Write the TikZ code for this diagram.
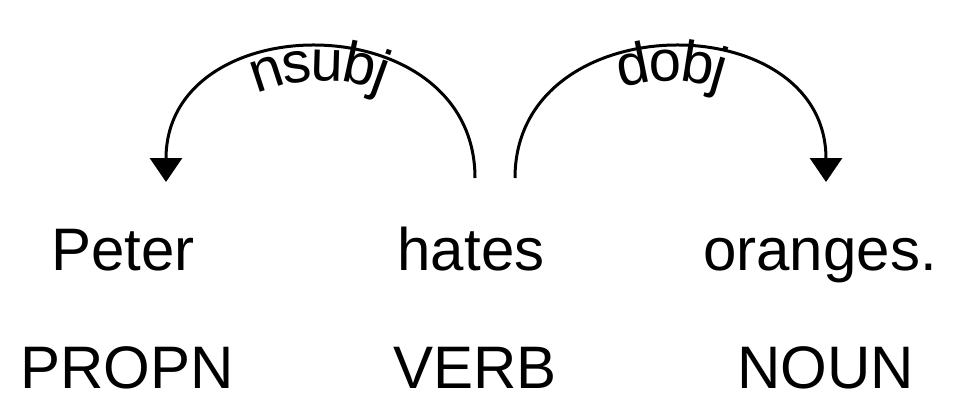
\documentclass[tikz,border=0pt]{standalone}
\usepackage{fontspec}
\setmainfont{Liberation Sans}
\usepackage{tikz}
\usetikzlibrary{arrows.meta, decorations.text}
\newcommand{\wordfont}{\fontsize{60}{70}\selectfont}
\newcommand{\arclabelfont}{\fontsize{58}{60}\selectfont}
\tikzset{arctip/.tip={Triangle[width=32pt, length=24pt]}}
\begin{document}
\begin{tikzpicture}[x=1pt, y=-1pt, >=Stealth,
    word/.style={inner sep=0pt, anchor=base, font=\wordfont},
    arc/.style={line width=3pt},
    arclabel/.style={decorate, decoration={text along path, text={|\arclabelfont|#1}, text align=center, raise=-17pt}}]
  
    \useasboundingbox (0,0) rectangle (956,418);
    
    % words and tags
    \node[word] (peter) at (123,270) {Peter};
    \node[word] (hates) at (471,270) {hates};
    \node[word] (oranges) at (820,270) {oranges.};
    \node[word] (propn) at (127,388) {PROPN};
    \node[word] (verb) at (475,388) {VERB};
    \node[word] (noun) at (826,388) {NOUN};
    
    \coordinate (nsubj-tip) at (166,182);
    \coordinate (nsubj-root) at (475,178);
    \coordinate (dobj-root) at (515,178);
    \coordinate (dobj-tip) at (826,182);
    
    % arcs
    \draw[arc, arctip-] (nsubj-tip) .. controls +(0,-178) and +(0,-174) .. (nsubj-root);
    \path[arclabel=nsubj] ([xshift=16pt]nsubj-tip) .. controls +(0,-157) and +(0,-153) .. ([xshift=-16pt]nsubj-root);
    
    \draw[arc, -arctip] (dobj-root) .. controls +(0,-174) and +(0,-178) .. (dobj-tip);
    \path[arclabel=dobj] ([xshift=16pt]dobj-root) .. controls +(0,-153) and +(0,-157) .. ([xshift=-16pt]dobj-tip);
  
  \end{tikzpicture}
\end{document}
